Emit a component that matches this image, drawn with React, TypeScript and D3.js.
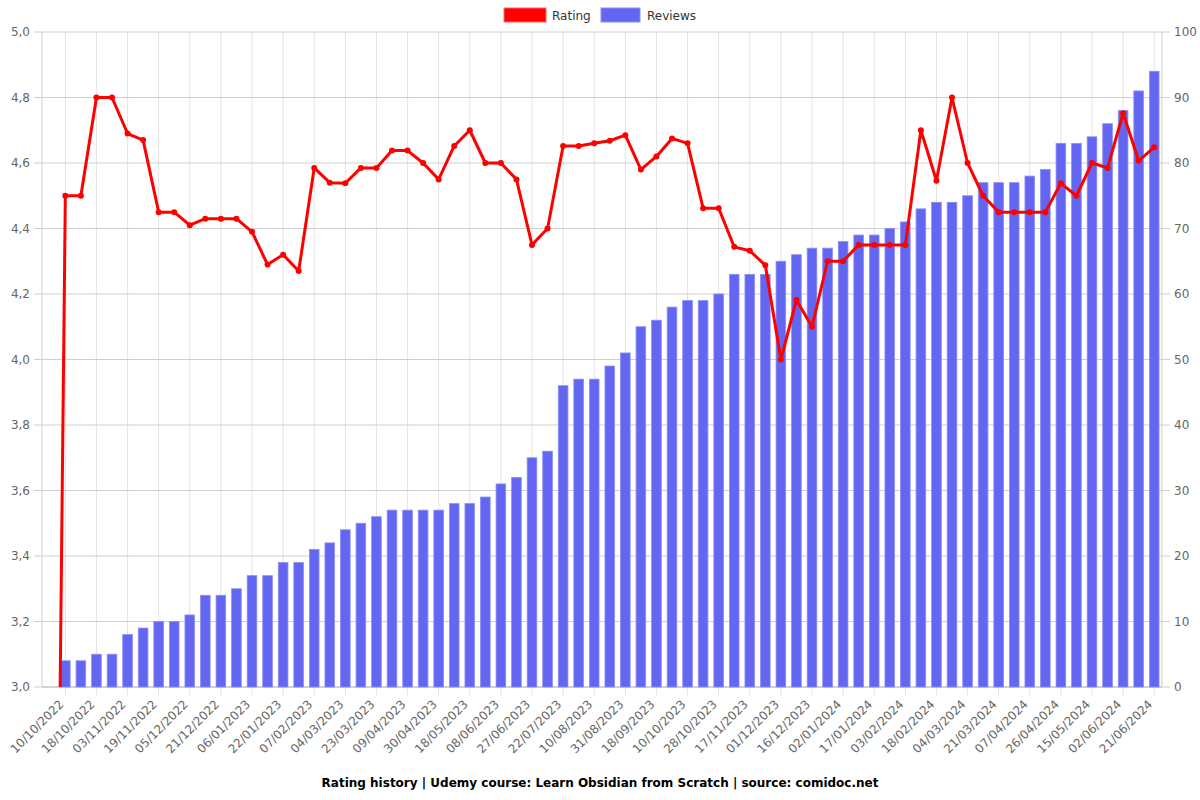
import React from "react";
import * as d3 from "d3";

const tickLabels = [
  "10/10/2022", "18/10/2022", "03/11/2022", "19/11/2022", "05/12/2022", "21/12/2022",
  "06/01/2023", "22/01/2023", "07/02/2023", "04/03/2023", "23/03/2023", "09/04/2023",
  "30/04/2023", "18/05/2023", "08/06/2023", "27/06/2023", "22/07/2023", "10/08/2023",
  "31/08/2023", "18/09/2023", "10/10/2023", "28/10/2023", "17/11/2023", "01/12/2023",
  "16/12/2023", "02/01/2024", "17/01/2024", "03/02/2024", "18/02/2024", "04/03/2024",
  "21/03/2024", "07/04/2024", "26/04/2024", "15/05/2024", "02/06/2024", "21/06/2024",
];

// 72 snapshots; tick labels are shown for every second one (odd indices)
const ratings = [
  0, 4.5, 4.5, 4.8, 4.8, 4.69, 4.67, 4.45, 4.45, 4.41, 4.43, 4.43, 4.43, 4.39, 4.29, 4.32,
  4.27, 4.585, 4.54, 4.538, 4.585, 4.585, 4.638, 4.638, 4.6, 4.55, 4.652, 4.7, 4.6, 4.6,
  4.55, 4.35, 4.4, 4.652, 4.652, 4.66, 4.668, 4.685, 4.58, 4.62, 4.675, 4.66, 4.462, 4.462,
  4.344, 4.332, 4.288, 4.0, 4.182, 4.1, 4.3, 4.3, 4.35, 4.35, 4.35, 4.35, 4.7, 4.546,
  4.8, 4.6, 4.5, 4.45, 4.45, 4.45, 4.45, 4.538, 4.5, 4.6, 4.585, 4.752, 4.607, 4.648,
];

const reviews = [
  0, 4, 4, 5, 5, 8, 9, 10, 10, 11, 14, 14, 15, 17, 17, 19, 19, 21, 22, 24, 25, 26, 27, 27,
  27, 27, 28, 28, 29, 31, 32, 35, 36, 46, 47, 47, 49, 51, 55, 56, 58, 59, 59, 60, 63, 63,
  63, 65, 66, 67, 67, 68, 69, 69, 70, 71, 73, 74, 74, 75, 77, 77, 77, 78, 79, 83, 83, 84,
  86, 88, 91, 94,
];

const leftTicks = d3.range(3.0, 5.0001, 0.2);
const rightTicks = d3.range(0, 101, 10);

const W = 1200, H = 800;
const L = 42, R = 1162, T = 32, B = 687;

export default function App() {
  const n = reviews.length;
  const x = d3.scaleBand<number>().domain(d3.range(n)).range([L, R]);
  const cx = (i: number) => (x(i) as number) + x.bandwidth() / 2;
  const yL = d3.scaleLinear().domain([3, 5]).range([B, T]);
  const yR = d3.scaleLinear().domain([0, 100]).range([B, T]);
  const bw = x.bandwidth() * 0.62;
  const line = d3.line<number>().x((_, i) => cx(i)).y((v) => yL(v));
  const tickIdx = tickLabels.map((_, k) => 2 * k + 1);
  const font = "DejaVu Sans, sans-serif";
  const fmt = (v: number) => v.toFixed(1).replace(".", ",");

  return (
    <svg width={W} height={H} style={{ position: "absolute", left: 0, top: 0 }} fontFamily={font}>
      <rect width={W} height={H} fill="#fff" />
      <defs>
        <clipPath id="plot">
          <rect x={L} y={T - 5} width={R - L} height={B - T + 5} />
        </clipPath>
      </defs>
      {/* vertical grid */}
      {tickIdx.map((i) => (
        <line key={"vg" + i} x1={cx(i)} x2={cx(i)} y1={T} y2={B + 8} stroke="#e4e4e4" strokeWidth={1} />
      ))}
      {/* horizontal grid */}
      {leftTicks.map((t, k) => (
        <line key={"hg" + k} x1={L - 8} x2={R + 8} y1={yL(t)} y2={yL(t)} stroke="#cfcfcf" strokeWidth={1} />
      ))}
      {/* axis lines */}
      <line x1={L} x2={L} y1={T} y2={B} stroke="#cfcfcf" />
      <line x1={R} x2={R} y1={T} y2={B} stroke="#cfcfcf" />
      <line x1={L} x2={R} y1={B} y2={B} stroke="#bdbdbd" />
      {/* bars */}
      {reviews.map((v, i) => (
        <rect key={"b" + i} x={cx(i) - bw / 2} y={yR(v)} width={bw} height={B - yR(v)}
          fill="#6366f1" stroke="#8b8ef5" strokeWidth={0.8} />
      ))}
      {/* line */}
      <g clipPath="url(#plot)">
        <path d={line(ratings) || ""} fill="none" stroke="#ff0000" strokeWidth={3} strokeLinejoin="round" />
        {ratings.map((v, i) => (
          <circle key={"p" + i} cx={cx(i)} cy={yL(v)} r={3} fill="#ff0000" />
        ))}
      </g>
      {/* left axis labels */}
      {leftTicks.map((t, k) => (
        <text key={"lt" + k} x={L - 12} y={yL(t)} dy="0.35em" textAnchor="end" fontSize={12} fill="#666">
          {fmt(t)}
        </text>
      ))}
      {/* right axis labels */}
      {rightTicks.map((t) => (
        <text key={"rt" + t} x={R + 12} y={yR(t)} dy="0.35em" textAnchor="start" fontSize={12} fill="#666">
          {t}
        </text>
      ))}
      {/* x labels */}
      {tickIdx.map((i, k) => (
        <text key={"xl" + i} transform={`translate(${cx(i) - 4},${B + 15}) rotate(-45)`} textAnchor="end"
          dy="0.35em" fontSize={12} fill="#666">
          {tickLabels[k]}
        </text>
      ))}
      {/* legend */}
      <rect x={504} y={8} width={42} height={14} fill="#ff0000" stroke="#ff6666" strokeWidth={1} />
      <text x={552} y={16} dy="0.35em" fontSize={12} fill="#333">Rating</text>
      <rect x={601} y={8} width={39} height={14} fill="#6366f1" stroke="#8b8ef5" strokeWidth={1} />
      <text x={647} y={16} dy="0.35em" fontSize={12} fill="#333">Reviews</text>
      {/* title */}
      <text x={600} y={787} textAnchor="middle" fontSize={12} fontWeight="bold" fill="#000">
        Rating history | Udemy course: Learn Obsidian from Scratch | source: comidoc.net
      </text>
    </svg>
  );
}
